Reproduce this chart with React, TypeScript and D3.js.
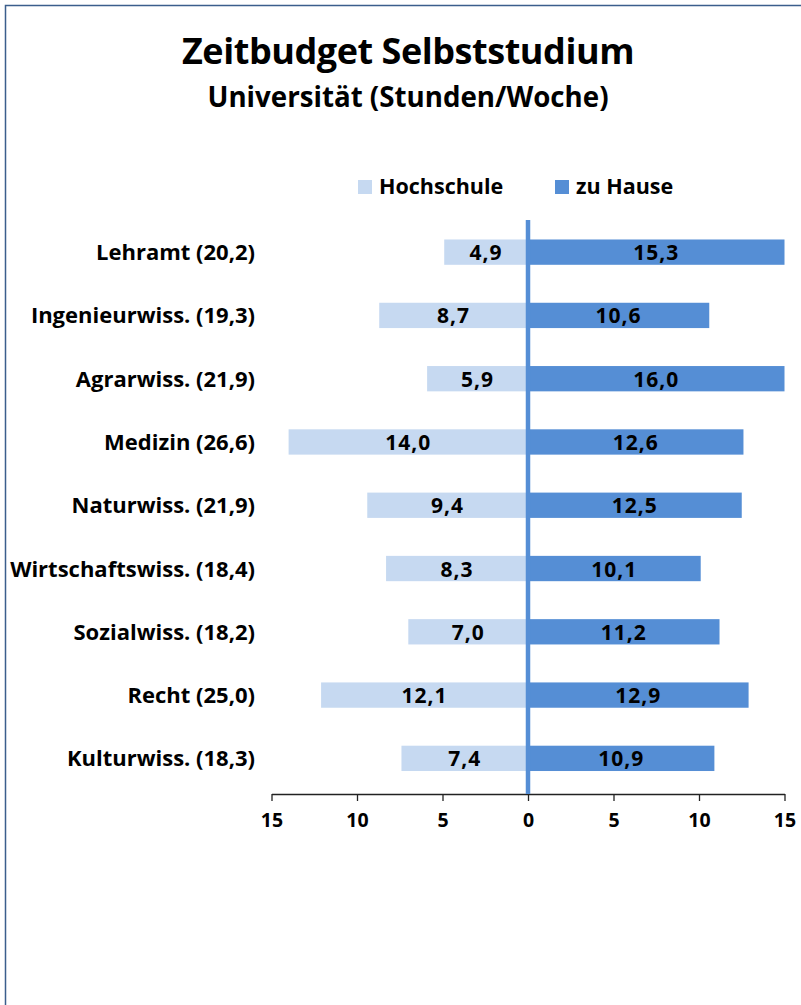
import React, { useEffect, useRef } from 'react';
import * as d3 from 'd3';

// Fächer mit Gesamtstunden in Klammern
const categories = [
  'Lehramt (20,2)',
  'Ingenieurwiss. (19,3)',
  'Agrarwiss. (21,9)',
  'Medizin (26,6)',
  'Naturwiss. (21,9)',
  'Wirtschaftswiss. (18,4)',
  'Sozialwiss. (18,2)',
  'Recht (25,0)',
  'Kulturwiss. (18,3)',
];
const hochschule = [4.9, 8.7, 5.9, 14.0, 9.4, 8.3, 7.0, 12.1, 7.4];
const zuHause = [15.3, 10.6, 16.0, 12.6, 12.5, 10.1, 11.2, 12.9, 10.9];
const tickValues = [-15, -10, -5, 0, 5, 10, 15];
const seriesNames = ['Hochschule', 'zu Hause'];

const LIGHT = '#C6D9F1';
const DARK = '#558ED5';
const FONT = '"Open Sans", sans-serif';

const fmt = (v: number) => v.toFixed(1).replace('.', ',');

const App = () => {
  const svgRef = useRef(null);

  useEffect(() => {
    const svg = d3.select(svgRef.current);
    svg.selectAll('*').remove();

    const W = 801;
    const H = 1005;

    // Rahmen
    svg
      .append('rect')
      .attr('x', 5.5)
      .attr('y', 5.5)
      .attr('width', W + 20)
      .attr('height', H + 20)
      .attr('fill', 'white')
      .attr('stroke', '#3B5E8C')
      .attr('stroke-width', 1.5);

    // Titel
    svg
      .append('text')
      .attr('x', 408)
      .attr('y', 64)
      .attr('text-anchor', 'middle')
      .attr('font-family', FONT)
      .attr('font-weight', 'bold')
      .attr('font-size', 36)
      .attr('letter-spacing', -0.45)
      .text('Zeitbudget Selbststudium');

    svg
      .append('text')
      .attr('x', 408)
      .attr('y', 107)
      .attr('text-anchor', 'middle')
      .attr('font-family', FONT)
      .attr('font-weight', 'bold')
      .attr('font-size', 27.7)
      .text('Universität (Stunden/Woche)');

    // Skalen
    const x = d3.scaleLinear().domain([-15, 15]).range([271.5, 784.5]);
    const y = d3
      .scaleBand()
      .domain(categories)
      .range([220.5, 790])
      .paddingInner(0.6)
      .paddingOuter(0.3);
    const bh = y.bandwidth();
    const clamp = (v: number) => Math.max(-15, Math.min(15, v));

    // Legende
    const legend = svg.append('g');
    const legendItems = [
      { name: seriesNames[0], color: LIGHT, x: 358 },
      { name: seriesNames[1], color: DARK, x: 555 },
    ];
    legendItems.forEach((d) => {
      legend
        .append('rect')
        .attr('x', d.x)
        .attr('y', 180)
        .attr('width', 14)
        .attr('height', 14)
        .attr('fill', d.color);
      legend
        .append('text')
        .attr('x', d.x + 21)
        .attr('y', 194)
        .attr('font-family', FONT)
        .attr('font-weight', 'bold')
        .attr('font-size', 21.5)
        .text(d.name);
    });

    const rows = categories.map((c, i) => ({ c, h: hochschule[i], z: zuHause[i] }));

    // Balken Hochschule (links)
    svg
      .append('g')
      .selectAll('rect')
      .data(rows)
      .join('rect')
      .attr('x', (d) => x(-clamp(d.h)))
      .attr('y', (d) => y(d.c))
      .attr('width', (d) => x(0) - x(-clamp(d.h)))
      .attr('height', bh)
      .attr('fill', LIGHT);

    // Balken zu Hause (rechts)
    svg
      .append('g')
      .selectAll('rect')
      .data(rows)
      .join('rect')
      .attr('x', x(0))
      .attr('y', (d) => y(d.c))
      .attr('width', (d) => x(clamp(d.z)) - x(0))
      .attr('height', bh)
      .attr('fill', DARK);

    // Werte
    const labels = svg
      .append('g')
      .attr('font-family', FONT)
      .attr('font-weight', 'bold')
      .attr('font-size', 21)
      .attr('letter-spacing', 1)
      .attr('text-anchor', 'middle');
    labels
      .selectAll('text.l')
      .data(rows)
      .join('text')
      .attr('class', 'l')
      .attr('x', (d) => (x(0) + x(-clamp(d.h))) / 2)
      .attr('y', (d) => y(d.c) + bh / 2 + 8)
      .text((d) => fmt(d.h));
    labels
      .selectAll('text.r')
      .data(rows)
      .join('text')
      .attr('class', 'r')
      .attr('x', (d) => (x(0) + x(clamp(d.z))) / 2)
      .attr('y', (d) => y(d.c) + bh / 2 + 8)
      .text((d) => fmt(d.z));

    // Kategorien
    svg
      .append('g')
      .attr('font-family', FONT)
      .attr('font-weight', 'bold')
      .attr('font-size', 22)
      .attr('text-anchor', 'end')
      .selectAll('text')
      .data(categories)
      .join('text')
      .attr('x', 255)
      .attr('y', (d) => y(d) + bh / 2 + 8)
      .text((d) => d);

    // X-Achse
    const axisY = 794;
    const axis = svg
      .append('g')
      .attr('transform', `translate(0,${axisY})`)
      .call(
        d3
          .axisBottom(x)
          .tickValues(tickValues)
          .tickSize(7)
          .tickSizeOuter(0)
          .tickPadding(12)
          .tickFormat((d) => String(Math.abs(d as number)))
      );
    axis.select('.domain').attr('stroke', '#222').attr('stroke-width', 1.3);
    axis.selectAll('.tick line').attr('stroke', '#222').attr('stroke-width', 1.3);
    axis
      .selectAll('.tick text')
      .attr('font-family', FONT)
      .attr('font-weight', 'bold')
      .attr('font-size', 19.5)
      .attr('fill', '#000');

    // Nulllinie
    svg
      .append('line')
      .attr('x1', x(0))
      .attr('x2', x(0))
      .attr('y1', 220)
      .attr('y2', axisY)
      .attr('stroke', DARK)
      .attr('stroke-width', 4.5);
  }, []);

  return (
    <svg
      ref={svgRef}
      width={801}
      height={1005}
      style={{ position: 'absolute', left: 0, top: 0, background: 'white' }}
    ></svg>
  );
};

export default App;
